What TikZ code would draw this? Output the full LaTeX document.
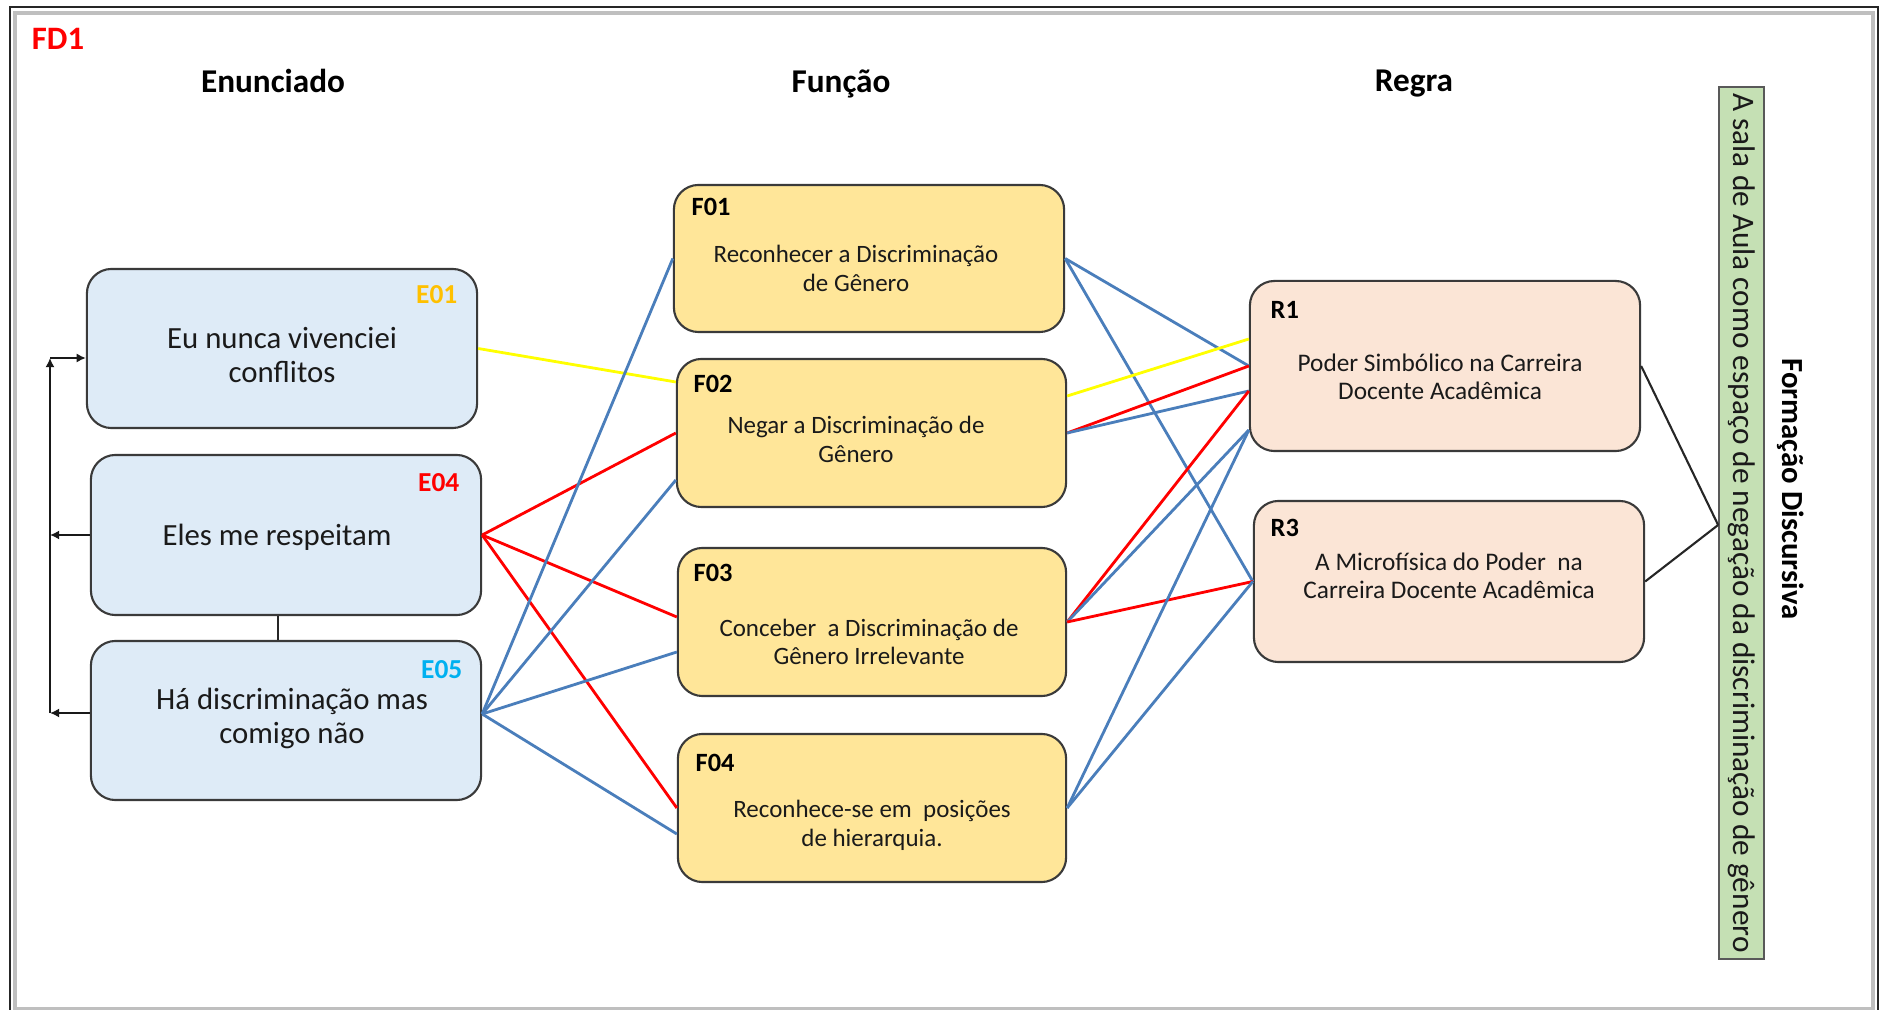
\documentclass[tikz,border=0pt]{standalone}
\usepackage{fontspec}
\setmainfont{Carlito}
\usetikzlibrary{calc,arrows.meta}

\definecolor{eblue}{HTML}{DEEBF7}
\definecolor{fgold}{HTML}{FFE699}
\definecolor{rpeach}{HTML}{FBE5D6}
\definecolor{fdgreen}{HTML}{C5E0B4}
\definecolor{lnblue}{HTML}{4A7EBB}
\definecolor{lnred}{HTML}{FF0000}
\definecolor{lnyellow}{HTML}{FFFF00}
\definecolor{lblorange}{HTML}{FFC000}
\definecolor{lblcyan}{HTML}{00B0F0}
\definecolor{boxedge}{HTML}{3A3A3A}
\definecolor{txt}{HTML}{1A1A1A}

\begin{document}
\begin{tikzpicture}[x=0.01cm, y=-0.01cm,
  card/.style={draw=boxedge, line width=0.6pt, rounded corners=7pt, inner sep=0pt},
  ebox/.style={card, fill=eblue},
  fbox/.style={card, fill=fgold},
  rbox/.style={card, fill=rpeach},
  etext/.style={align=center, inner sep=0pt, text=txt, font=\fontsize{8.76}{9.6}\selectfont},
  ftext/.style={align=center, inner sep=0pt, text=txt, font=\fontsize{7.1}{8.2}\selectfont},
  rtext/.style={align=center, inner sep=0pt, text=txt, font=\fontsize{7.2}{8.0}\selectfont},
  elabel/.style={anchor=east, inner sep=0pt, font=\bfseries\fontsize{7.8}{9}\selectfont},
  flabel/.style={anchor=west, inner sep=0pt, text=black, font=\bfseries\fontsize{7.5}{9}\selectfont},
  coltitle/.style={inner sep=0pt, text=black, font=\bfseries\fontsize{9.45}{11}\selectfont},
  link/.style={line width=0.8pt},
  blueln/.style={link, draw=lnblue},
  redln/.style={link, draw=lnred},
  yellowln/.style={link, draw=lnyellow},
  busln/.style={line width=0.75pt, draw=black!90, -{Latex[length=2.6pt,width=2.6pt]}},
  plainln/.style={line width=0.6pt, draw=black!85}
]
\useasboundingbox (0,0) rectangle (1885,1010);

% page frame
\draw[black!25, line width=1.1pt] (15,13) rectangle (1873,1009);
\draw[black!85, line width=0.35pt] (10,7) rectangle (1878,1030);

% headings
\node[inner sep=0pt, text=lnred, font=\bfseries\fontsize{9.3}{11}\selectfont] (fd1) at (58,39) {FD1};
\node[coltitle] (tEnun) at (273,81) {Enunciado};
\node[coltitle] (tFunc) at (841,84) {Função};
\node[coltitle] (tRegra) at (1414,84) {Regra};

% statements
\node[ebox, minimum width=3.90cm, minimum height=1.59cm] (E01) at (282,348.5) {};
\node[ebox, minimum width=3.90cm, minimum height=1.60cm] (E04) at (286,535) {};
\node[ebox, minimum width=3.90cm, minimum height=1.59cm] (E05) at (286,720.5) {};
\node[elabel, text=lblorange] (E01l) at (458,295) {E01};
\node[elabel, text=lnred] (E04l) at (460,483) {E04};
\node[elabel, text=lblcyan] (E05l) at (463,670) {E05};
\node[etext] (E01t) at (282,355) {Eu nunca vivenciei\\conflitos};
\node[etext] (E04t) at (277,537) {Eles me respeitam};
\node[etext] (E05t) at (292,718.5) {Há discriminação mas\\comigo não};

% functions
\node[fbox, minimum width=3.90cm, minimum height=1.47cm] (F01) at (869,258.5) {};
\node[fbox, minimum width=3.89cm, minimum height=1.48cm] (F02) at (871.5,433) {};
\node[fbox, minimum width=3.88cm, minimum height=1.48cm] (F03) at (872,622) {};
\node[fbox, minimum width=3.88cm, minimum height=1.48cm] (F04) at (872,808) {};
\node[flabel] (F01l) at (691,207) {F01};
\node[flabel] (F02l) at (693,384) {F02};
\node[flabel] (F03l) at (693,573) {F03};
\node[flabel] (F04l) at (695,763) {F04};
\node[ftext] (F01t) at (856,268.5) {Reconhecer a Discriminação\\de Gênero};
\node[ftext] (F02t) at (856,439.5) {Negar a Discriminação de\\Gênero};
\node[ftext] (F03t) at (869,642) {Conceber~ a Discriminação de\\Gênero Irrelevante};
\node[ftext] (F04t) at (872,825) {Reconhece-se em~ posições\\de hierarquia.};

% rules
\node[rbox, minimum width=3.90cm, minimum height=1.70cm] (R1) at (1445,366) {};
\node[rbox, minimum width=3.90cm, minimum height=1.61cm] (R3) at (1449,581.5) {};
\node[flabel] (R1l) at (1270,310) {R1};
\node[flabel] (R3l) at (1270,528) {R3};
\node[rtext] (R1t) at (1440,377) {Poder Simbólico na Carreira\\Docente Acadêmica};
\node[rtext] (R3t) at (1449,576) {A Microfísica do Poder~ na\\Carreira Docente Acadêmica};

% discursive formation
\node[draw=black!65, line width=0.5pt, fill=fdgreen, inner sep=0pt,
      minimum width=0.45cm, minimum height=8.72cm] (FD) at (1741.5,523) {};
\node[rotate=-90, inner sep=0pt, text=txt, font=\fontsize{8.9}{10}\selectfont] (FDt) at (1741.5,523)
  {A sala de Aula como espaço de negação da discriminação de gênero};
\node[rotate=-90, inner sep=0pt, text=black, font=\bfseries\fontsize{8.73}{10}\selectfont] (FDtitle) at (1791,489)
  {Formação Discursiva};

% side bus between the statements
\coordinate (busTop) at (50,358);
\coordinate (busE04) at (50,535);
\coordinate (busE05) at (50,713);
\draw[busln] (busE05) -- (busTop);
\draw[busln] (busTop) -- (E01.west |- busTop);
\draw[busln] (E04.west) -- (busE04);
\draw[busln] (E05.west |- busE05) -- (busE05);
\draw[plainln] ($(E04.south)+(-8,0)$) -- ($(E05.north)+(-8,0)$);

% statement -> function links
\coordinate (E05o) at ($(E05.east)+(0,-6.5)$);
\draw[yellowln] (E01.east) -- ($(F02.west)+(0,-51)$);
\draw[redln] (E04.east) -- (F02.west);
\draw[redln] (E04.east) -- ($(F03.west)+(0,-5)$);
\draw[redln] (E04.east) -- (F04.west);
\draw[blueln] (E05o) -- (F01.west);
\draw[blueln] (E05o) -- ($(F02.west)+(0,47)$);
\draw[blueln] (E05o) -- ($(F03.west)+(0,30)$);
\draw[blueln] (E05o) -- ($(F04.west)+(0,26)$);

% function -> rule links
\coordinate (R1a) at ($(R1.west)+(0,-27)$);
\coordinate (R1c) at ($(R1.west)+(0,25)$);
\coordinate (R1d) at ($(R1.west)+(0,64)$);
\draw[blueln] (F01.east) -- (R1.west);
\draw[blueln] (F01.east) -- (R3.west);
\draw[yellowln] ($(F02.east)+(0,-37)$) -- (R1a);
\draw[redln] (F02.east) -- (R1.west);
\draw[blueln] (F02.east) -- (R1c);
\draw[redln] (F03.east) -- (R1c);
\draw[blueln] (F03.east) -- (R1d);
\draw[redln] (F03.east) -- (R3.west);
\draw[blueln] (F04.east) -- (R1d);
\draw[blueln] (F04.east) -- (R3.west);

% rule -> discursive formation
\draw[plainln] (R1.east) -- ($(FD.west)+(0,2)$);
\draw[plainln] (R3.east) -- ($(FD.west)+(0,2)$);
\end{tikzpicture}
\end{document}
